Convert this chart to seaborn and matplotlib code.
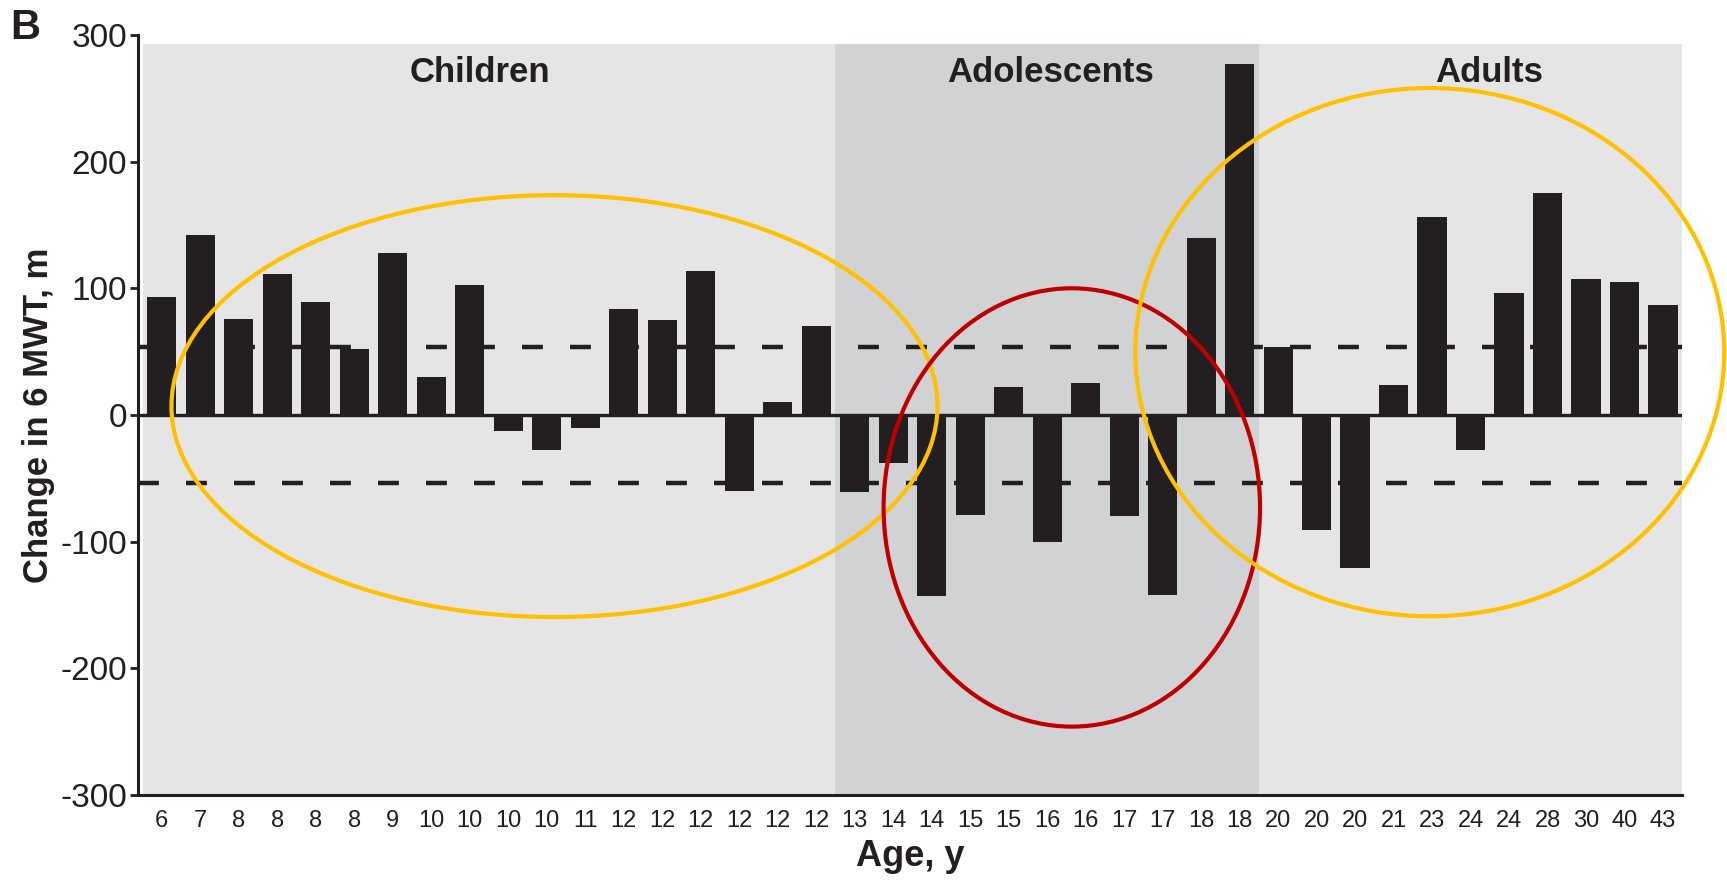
import matplotlib
matplotlib.use('Agg')
import matplotlib.pyplot as plt
from matplotlib.patches import Ellipse
import numpy as np
import pandas as pd
import seaborn as sns

# ages of each patient (x tick labels) and change in 6MWT (m)
ages = [6, 7, 8, 8, 8, 8, 9, 10, 10, 10, 10, 11, 12, 12, 12, 12, 12, 12,
        13, 14, 14, 15, 15, 16, 16, 17, 17, 18, 18,
        20, 20, 20, 21, 23, 24, 24, 28, 30, 40, 43]
change = [93, 142, 76, 111, 89, 52, 128, 30, 103, -13, -28, -10, 84, 75, 114, -60, 10, 70,
          -61, -38, -143, -79, 22, -100, 25, -80, -142, 140, 277,
          54, -91, -121, 24, 156, -28, 96, 175, 107, 105, 87]
groups = ['Children', 'Adolescents', 'Adults']
group_sizes = [18, 11, 11]
mcid = 54

df = pd.DataFrame({'pos': [str(i) for i in range(len(ages))], 'change': change})

sns.set_style('white')
plt.rcParams['font.family'] = ['Liberation Sans', 'DejaVu Sans']

fig = plt.figure(figsize=(17.27, 8.89), dpi=100)
ax = fig.add_axes([0.0799, 0.1057, 0.894, 0.855])

sns.barplot(data=df, x='pos', y='change', color='#231f20', saturation=1,
            width=0.76, errorbar=None, ax=ax, zorder=3, linewidth=0)

ax.set_xlim(-0.62, len(ages) - 0.51)
ax.set_ylim(-300, 300)

# group shading
edges = np.cumsum([0] + group_sizes) - 0.5
shades = ['#e5e5e5', '#d1d2d4', '#e5e5e5']
top_frac = (293 + 300) / 600
label_x = [8.26, 23.09, 34.47]
for i, g in enumerate(groups):
    lo = max(edges[i], -0.62)
    hi = min(edges[i + 1], len(ages) - 0.51)
    ax.axvspan(lo, hi, ymin=0, ymax=top_frac, color=shades[i], zorder=0, lw=0)
    ax.text(label_x[i], 270, g, ha='center', va='center', fontsize=25,
            fontweight='bold', color='#231f20')

# reference lines
ax.axhline(0, color='#231f20', lw=2.4, zorder=4)
for y in (mcid, -mcid):
    ax.axhline(y, color='#231f20', lw=3.2, linestyle=(0, (4.7, 6.1)), zorder=2)

# highlight ellipses
ax.add_patch(Ellipse((10.2, 7), 19.9, 333, fill=False, ec='#ffc000', lw=3, zorder=5, clip_on=False))
ax.add_patch(Ellipse((23.64, -73), 9.78, 346, fill=False, ec='#c00000', lw=3, zorder=5, clip_on=False))
ax.add_patch(Ellipse((32.94, 49.6), 15.3, 417, fill=False, ec='#ffc000', lw=3, zorder=5, clip_on=False))

ax.set_xticks(range(len(ages)))
ax.set_xticklabels([str(a) for a in ages], fontsize=17, color='#231f20')
ax.set_yticks(range(-300, 301, 100))
ax.set_yticklabels([str(v) for v in range(-300, 301, 100)], fontsize=24, color='#231f20')
ax.tick_params(axis='x', length=0, pad=11)
ax.tick_params(axis='y', length=6, width=2, direction='out', pad=2, color='#231f20', left=True)

ax.set_xlabel('Age, y', fontsize=26, fontweight='bold', color='#231f20', labelpad=5)
ax.set_ylabel('Change in 6 MWT, m', fontsize=25, fontweight='bold', color='#231f20', labelpad=4)

for s in ['top', 'right']:
    ax.spines[s].set_visible(False)
for s in ['left', 'bottom']:
    ax.spines[s].set_color('#231f20')
    ax.spines[s].set_linewidth(2.2)
ax.set_facecolor('white')

fig.text(0.0145, 0.968, 'B', fontsize=30, fontweight='bold', ha='center', va='center', color='#231f20')

fig.savefig('out.png', dpi=100)
